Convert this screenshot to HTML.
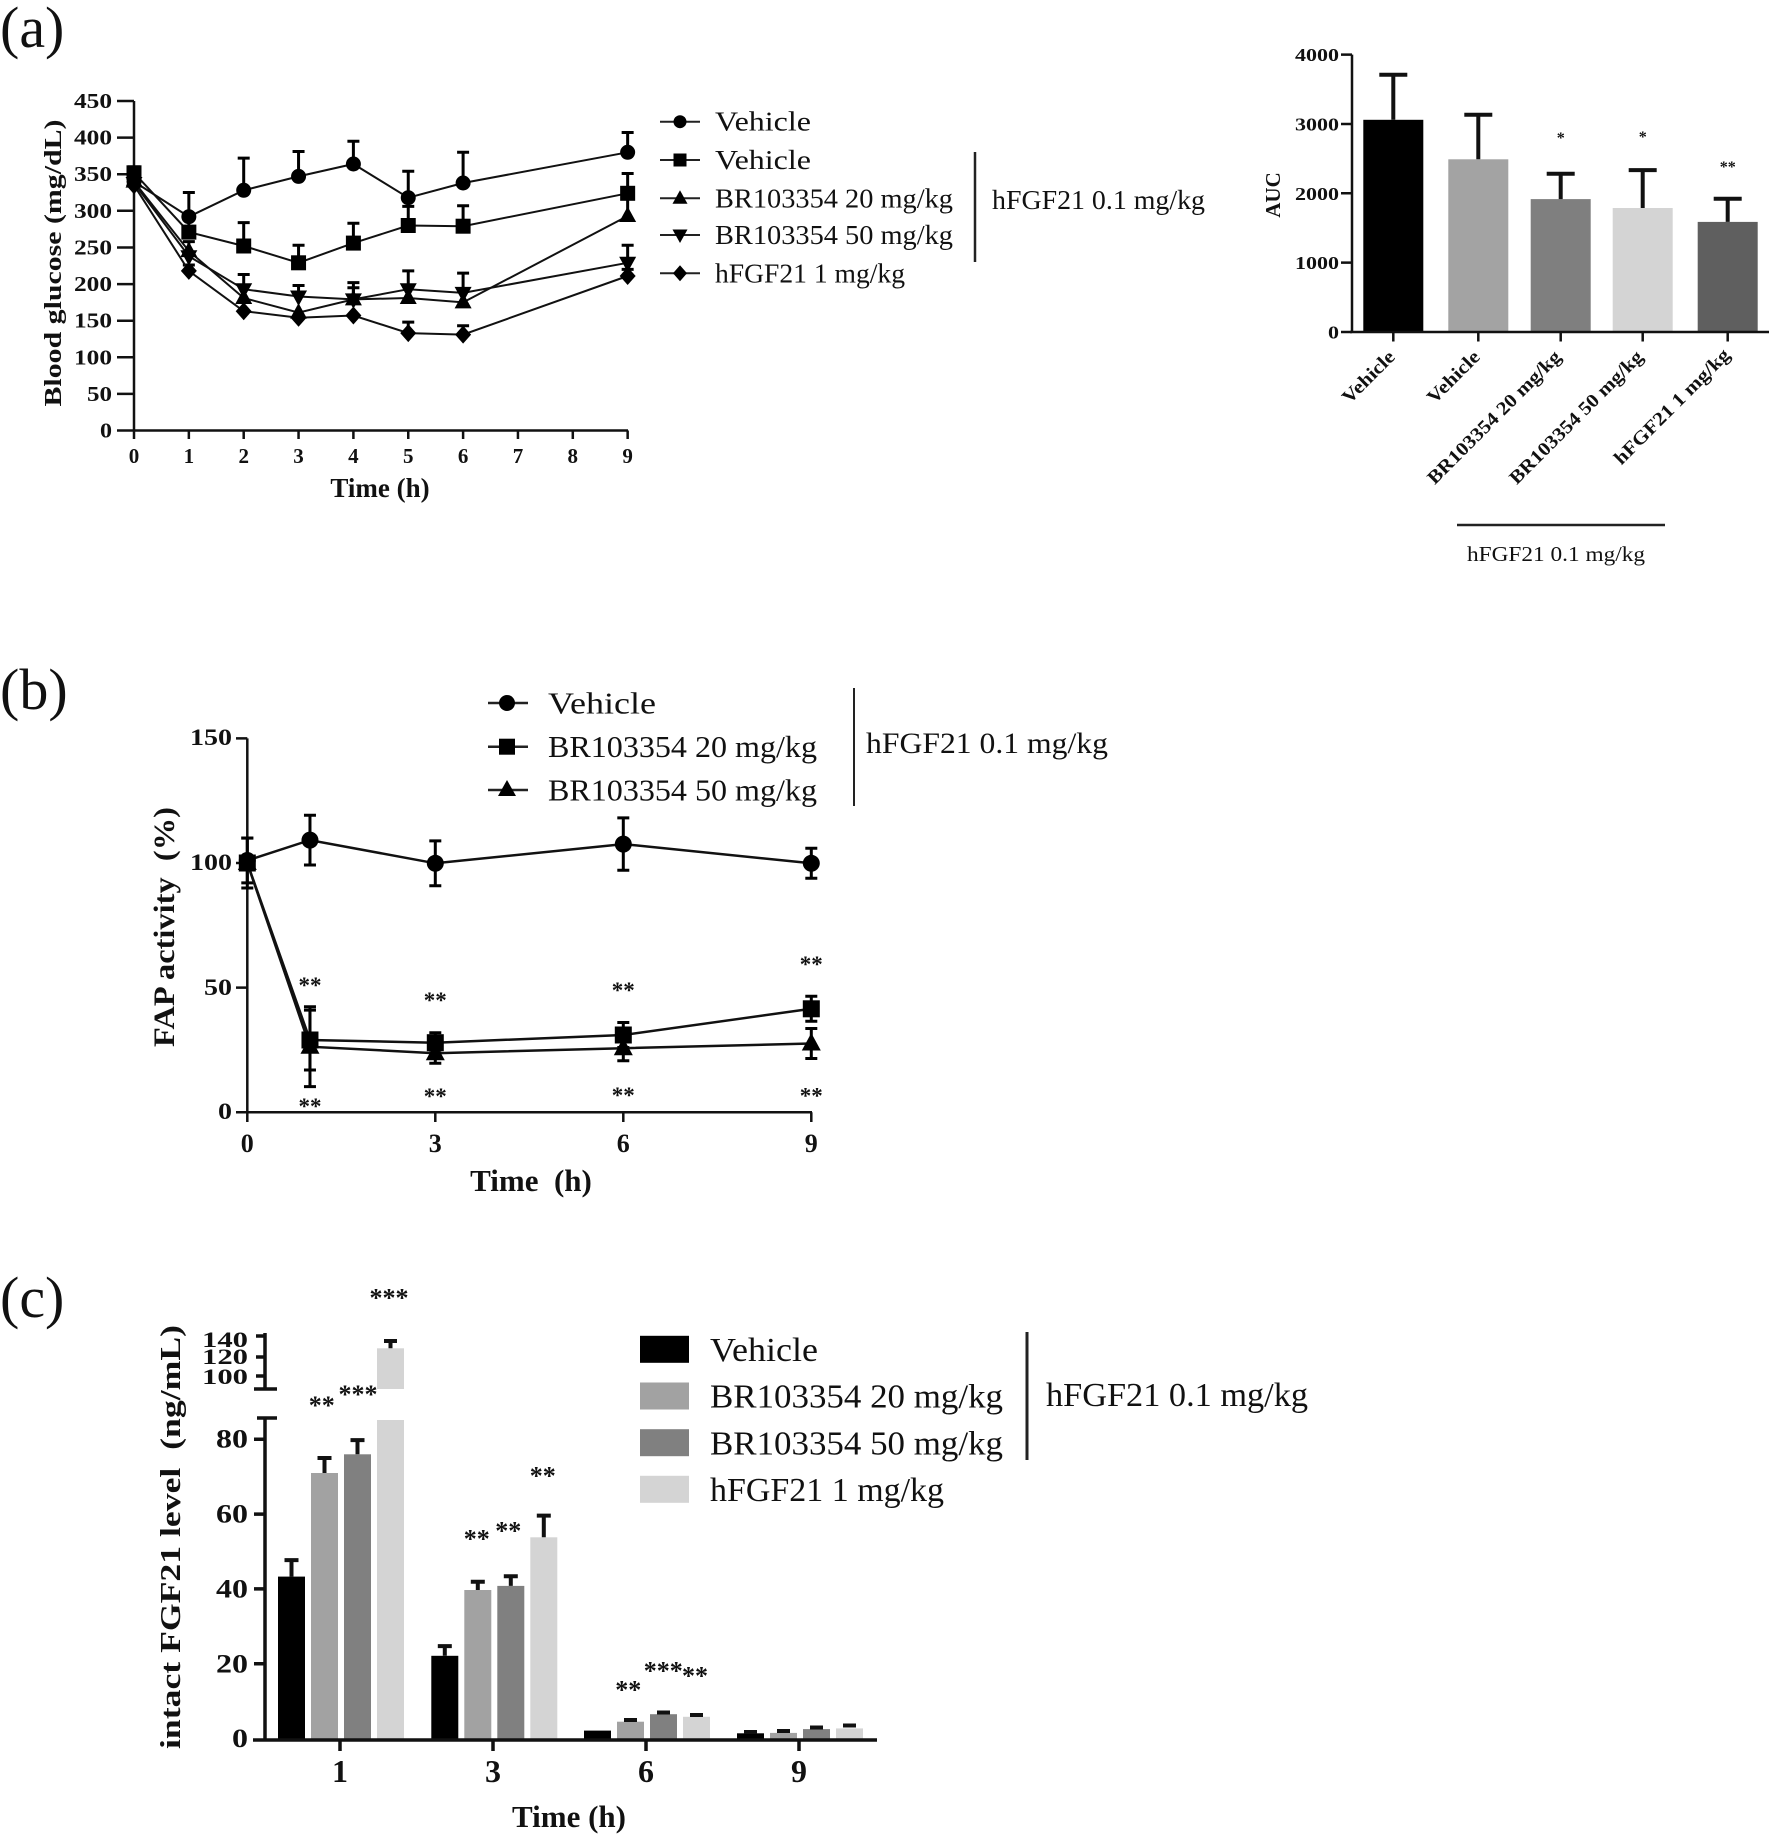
<!DOCTYPE html>
<html>
<head>
<meta charset="utf-8">
<style>
  html, body { margin: 0; padding: 0; background: #ffffff; }
  svg { display: block; }
  text { font-family: "Liberation Serif", "Times New Roman", serif; fill: #111; }
  .b { font-weight: bold; }
</style>
</head>
<body>
<svg width="1774" height="1840" viewBox="0 0 1774 1840" xmlns="http://www.w3.org/2000/svg" font-family="Liberation Serif, serif">
  <defs>
    <circle id="ca" cx="0" cy="0" r="7.5" fill="#000"/>
    <rect id="sa" x="-7.5" y="-7.5" width="15" height="15" fill="#000"/>
    <polygon id="ta" points="0,-9.5 -8.5,6 8.5,6" fill="#000"/>
    <polygon id="da" points="0,9.5 -8.5,-6 8.5,-6" fill="#000"/>
    <polygon id="ma" points="0,-9 8,0 0,9 -8,0" fill="#000"/>
    <circle id="cb" cx="0" cy="0" r="8.5" fill="#000"/>
    <rect id="sb" x="-8.5" y="-8.5" width="17" height="17" fill="#000"/>
    <polygon id="tb" points="0,-10.5 -9.5,7 9.5,7" fill="#000"/>
  </defs>

  <!-- ===================== PANEL (a) ===================== -->
  <text x="0" y="47" font-size="58">(a)</text>

  <g stroke="#111" stroke-width="2.5" fill="none">
    <path d="M134 101V431"/>
    <path d="M117 430.5H628"/>
    <path d="M117 393.9H134M117 357.3H134M117 320.7H134M117 284.1H134M117 247.5H134M117 210.8H134M117 174.2H134M117 137.6H134M117 101H134"/>
    <path d="M134 430.5V439M188.85 430.5V439M243.7 430.5V439M298.55 430.5V439M353.4 430.5V439M408.25 430.5V439M463.1 430.5V439M517.95 430.5V439M572.8 430.5V439M627.65 430.5V439"/>
  </g>
  <g class="b" font-size="21" text-anchor="end">
    <text x="112" y="437.5" textLength="12" lengthAdjust="spacingAndGlyphs">0</text>
    <text x="112" y="400.9" textLength="25" lengthAdjust="spacingAndGlyphs">50</text>
    <text x="112" y="364.3" textLength="38" lengthAdjust="spacingAndGlyphs">100</text>
    <text x="112" y="327.7" textLength="38" lengthAdjust="spacingAndGlyphs">150</text>
    <text x="112" y="291.1" textLength="38" lengthAdjust="spacingAndGlyphs">200</text>
    <text x="112" y="254.5" textLength="38" lengthAdjust="spacingAndGlyphs">250</text>
    <text x="112" y="217.8" textLength="38" lengthAdjust="spacingAndGlyphs">300</text>
    <text x="112" y="181.2" textLength="38" lengthAdjust="spacingAndGlyphs">350</text>
    <text x="112" y="144.6" textLength="38" lengthAdjust="spacingAndGlyphs">400</text>
    <text x="112" y="108" textLength="38" lengthAdjust="spacingAndGlyphs">450</text>
  </g>
  <g class="b" font-size="21" text-anchor="middle">
    <text x="134" y="463">0</text>
    <text x="188.85" y="463">1</text>
    <text x="243.7" y="463">2</text>
    <text x="298.55" y="463">3</text>
    <text x="353.4" y="463">4</text>
    <text x="408.25" y="463">5</text>
    <text x="463.1" y="463">6</text>
    <text x="517.95" y="463">7</text>
    <text x="572.8" y="463">8</text>
    <text x="627.65" y="463">9</text>
  </g>
  <text class="b" x="380" y="497" font-size="27" text-anchor="middle">Time (h)</text>
  <text class="b" font-size="24" text-anchor="middle" transform="translate(61,263) rotate(-90)" textLength="287" lengthAdjust="spacingAndGlyphs">Blood glucose  (mg/dL)</text>

  <g stroke="#000" stroke-width="3" fill="none">
    <path d="M134 181.6V174.2M128 174.2H140M188.85 216.7V192.5M182.85 192.5H194.85M243.7 190.3V158.1M237.7 158.1H249.7M298.55 176.4V151.5M292.55 151.5H304.55M353.4 164V141.3M347.4 141.3H359.4M408.25 197.7V171.3M402.25 171.3H414.25M463.1 183V152.3M457.1 152.3H469.1M627.65 152.3V132.5M621.65 132.5H633.65"/>
    <path d="M134 172.8V166.9M128 166.9H140M188.85 232.1V213.8M182.85 213.8H194.85M243.7 246V222.6M237.7 222.6H249.7M298.55 262.8V245.3M292.55 245.3H304.55M353.4 243.1V223.3M347.4 223.3H359.4M408.25 225.5V206.4M402.25 206.4H414.25M463.1 226.2V205.7M457.1 205.7H469.1M627.65 193.3V173.5M621.65 173.5H633.65"/>
    <path d="M188.85 251.1V241.6M182.85 241.6H194.85M243.7 298V285.5M237.7 285.5H249.7M353.4 299.4V287.7M347.4 287.7H359.4M408.25 298V286.3M402.25 286.3H414.25M463.1 302.4V291.4M457.1 291.4H469.1M627.65 216V197.7M621.65 197.7H633.65"/>
    <path d="M243.7 289.2V274.5M237.7 274.5H249.7M298.55 296.5V285.5M292.55 285.5H304.55M353.4 299.4V282.6M347.4 282.6H359.4M408.25 289.2V270.9M402.25 270.9H414.25M463.1 292.9V273.1M457.1 273.1H469.1M627.65 262.8V245.3M621.65 245.3H633.65"/>
    <path d="M188.85 270.9V265M182.85 265H194.85M408.25 333.1V322.1M402.25 322.1H414.25M463.1 334.6V325.8M457.1 325.8H469.1M627.65 276V269.4M621.65 269.4H633.65"/>
  </g>
  <g stroke="#111" stroke-width="2" fill="none">
    <polyline points="134,181.6 188.85,216.7 243.7,190.3 298.55,176.4 353.4,164 408.25,197.7 463.1,183 627.65,152.3"/>
    <polyline points="134,172.8 188.85,232.1 243.7,246 298.55,262.8 353.4,243.1 408.25,225.5 463.1,226.2 627.65,193.3"/>
    <polyline points="134,181.6 188.85,251.1 243.7,298 298.55,312.6 353.4,299.4 408.25,298 463.1,302.4 627.65,216"/>
    <polyline points="134,183 188.85,256.2 243.7,289.2 298.55,296.5 353.4,299.4 408.25,289.2 463.1,292.9 627.65,262.8"/>
    <polyline points="134,185.2 188.85,270.9 243.7,311.2 298.55,317.7 353.4,315.5 408.25,333.1 463.1,334.6 627.65,276"/>
  </g>
  <g>
    <use href="#ca" x="134" y="181.6"/><use href="#ca" x="188.85" y="216.7"/><use href="#ca" x="243.7" y="190.3"/><use href="#ca" x="298.55" y="176.4"/><use href="#ca" x="353.4" y="164"/><use href="#ca" x="408.25" y="197.7"/><use href="#ca" x="463.1" y="183"/><use href="#ca" x="627.65" y="152.3"/>
    <use href="#sa" x="134" y="172.8"/><use href="#sa" x="188.85" y="232.1"/><use href="#sa" x="243.7" y="246"/><use href="#sa" x="298.55" y="262.8"/><use href="#sa" x="353.4" y="243.1"/><use href="#sa" x="408.25" y="225.5"/><use href="#sa" x="463.1" y="226.2"/><use href="#sa" x="627.65" y="193.3"/>
    <use href="#ta" x="134" y="181.6"/><use href="#ta" x="188.85" y="251.1"/><use href="#ta" x="243.7" y="298"/><use href="#ta" x="298.55" y="312.6"/><use href="#ta" x="353.4" y="299.4"/><use href="#ta" x="408.25" y="298"/><use href="#ta" x="463.1" y="302.4"/><use href="#ta" x="627.65" y="216"/>
    <use href="#da" x="134" y="183"/><use href="#da" x="188.85" y="256.2"/><use href="#da" x="243.7" y="289.2"/><use href="#da" x="298.55" y="296.5"/><use href="#da" x="353.4" y="299.4"/><use href="#da" x="408.25" y="289.2"/><use href="#da" x="463.1" y="292.9"/><use href="#da" x="627.65" y="262.8"/>
    <use href="#ma" x="134" y="185.2"/><use href="#ma" x="188.85" y="270.9"/><use href="#ma" x="243.7" y="311.2"/><use href="#ma" x="298.55" y="317.7"/><use href="#ma" x="353.4" y="315.5"/><use href="#ma" x="408.25" y="333.1"/><use href="#ma" x="463.1" y="334.6"/><use href="#ma" x="627.65" y="276"/>
  </g>
  <g stroke="#222" stroke-width="2">
    <path d="M660 121.7H700M660 160H700M660 198.3H700M660 235H700M660 273.3H700"/>
  </g>
  <circle cx="680" cy="121.7" r="6.5" fill="#000"/>
  <rect x="673.5" y="153.5" width="13" height="13" fill="#000"/>
  <polygon points="680,190.3 672.5,203.8 687.5,203.8" fill="#000"/>
  <polygon points="680,243 672.5,229.5 687.5,229.5" fill="#000"/>
  <polygon points="680,265.3 687,273.3 680,281.3 673,273.3" fill="#000"/>
  <g font-size="27" fill="#222">
    <text x="715" y="130.7" textLength="96" lengthAdjust="spacingAndGlyphs">Vehicle</text>
    <text x="715" y="169" textLength="96" lengthAdjust="spacingAndGlyphs">Vehicle</text>
    <text x="715" y="207.3" textLength="238" lengthAdjust="spacingAndGlyphs">BR103354 20 mg/kg</text>
    <text x="715" y="244" textLength="238" lengthAdjust="spacingAndGlyphs">BR103354 50 mg/kg</text>
    <text x="715" y="282.3" textLength="190" lengthAdjust="spacingAndGlyphs">hFGF21 1 mg/kg</text>
  </g>
  <path d="M975 152V262" stroke="#222" stroke-width="2.5"/>
  <text x="992" y="209" font-size="27" textLength="213" lengthAdjust="spacingAndGlyphs">hFGF21 0.1 mg/kg</text>

  <!-- ===================== AUC chart ===================== -->
  <rect x="1363.3" y="119.8" width="60" height="212.2" fill="#000"/>
  <rect x="1448.3" y="159.3" width="60" height="172.7" fill="#a3a3a3"/>
  <rect x="1530.7" y="199.1" width="60" height="132.9" fill="#7f7f7f"/>
  <rect x="1612.7" y="208" width="60" height="124" fill="#d4d4d4"/>
  <rect x="1697.7" y="221.9" width="60" height="110.1" fill="#5f5f5f"/>
  <g stroke="#111" stroke-width="4" fill="none">
    <path d="M1393.3 119.8V74.8M1379.3 74.8H1407.3M1478.3 159.3V114.7M1464.3 114.7H1492.3M1560.7 199.1V173.7M1546.7 173.7H1574.7M1642.7 208V170.1M1628.7 170.1H1656.7M1727.7 221.9V198.7M1713.7 198.7H1741.7"/>
  </g>
  <g stroke="#111" stroke-width="2.5" fill="none">
    <path d="M1352 54.6V333"/>
    <path d="M1350 332H1769"/>
    <path d="M1341 332H1352M1341 262.65H1352M1341 193.3H1352M1341 123.95H1352M1341 54.6H1352"/>
    <path d="M1393.3 332V341.5M1478.3 332V341.5M1560.7 332V341.5M1642.7 332V341.5M1727.7 332V341.5"/>
  </g>
  <g class="b" font-size="18" text-anchor="end">
    <text x="1339" y="338.5" textLength="11" lengthAdjust="spacingAndGlyphs">0</text>
    <text x="1339" y="269" textLength="44" lengthAdjust="spacingAndGlyphs">1000</text>
    <text x="1339" y="199.8" textLength="44" lengthAdjust="spacingAndGlyphs">2000</text>
    <text x="1339" y="130.5" textLength="44" lengthAdjust="spacingAndGlyphs">3000</text>
    <text x="1339" y="61" textLength="44" lengthAdjust="spacingAndGlyphs">4000</text>
  </g>
  <text class="b" font-size="21" text-anchor="middle" transform="translate(1280,195) rotate(-90)">AUC</text>
  <g class="b" font-size="16" text-anchor="middle">
    <text x="1560.7" y="143">*</text>
    <text x="1642.7" y="142">*</text>
    <text x="1727.7" y="172">**</text>
  </g>
  <g class="b" font-size="19" text-anchor="end">
    <text transform="translate(1396,358) rotate(-45)" textLength="66" lengthAdjust="spacingAndGlyphs">Vehicle</text>
    <text transform="translate(1481,358) rotate(-45)" textLength="66" lengthAdjust="spacingAndGlyphs">Vehicle</text>
    <text transform="translate(1562,358) rotate(-45)" textLength="180" lengthAdjust="spacingAndGlyphs">BR103354 20 mg/kg</text>
    <text transform="translate(1644,358) rotate(-45)" textLength="180" lengthAdjust="spacingAndGlyphs">BR103354 50 mg/kg</text>
    <text transform="translate(1731,356) rotate(-45)" textLength="155" lengthAdjust="spacingAndGlyphs">hFGF21 1 mg/kg</text>
  </g>
  <path d="M1457 525H1665" stroke="#222" stroke-width="2.5"/>
  <text x="1556" y="561" font-size="21" text-anchor="middle" textLength="178" lengthAdjust="spacingAndGlyphs">hFGF21 0.1 mg/kg</text>

  <!-- ===================== PANEL (b) ===================== -->
  <text x="0" y="709" font-size="58">(b)</text>
  <g stroke="#111" stroke-width="2.5" fill="none">
    <path d="M247.3 738.35V1113"/>
    <path d="M236 1112.3H812"/>
    <path d="M236 738.35H247.3M236 863H247.3M236 987.65H247.3"/>
    <path d="M247.3 1112.3V1122M435.3 1112.3V1122M623.3 1112.3V1122M811.3 1112.3V1122"/>
  </g>
  <g class="b" font-size="23" text-anchor="end">
    <text x="232" y="745" textLength="42" lengthAdjust="spacingAndGlyphs">150</text>
    <text x="232" y="870" textLength="42" lengthAdjust="spacingAndGlyphs">100</text>
    <text x="232" y="995" textLength="28" lengthAdjust="spacingAndGlyphs">50</text>
    <text x="232" y="1119" textLength="14" lengthAdjust="spacingAndGlyphs">0</text>
  </g>
  <g class="b" font-size="26" text-anchor="middle">
    <text x="247.3" y="1152">0</text>
    <text x="435.3" y="1152">3</text>
    <text x="623.3" y="1152">6</text>
    <text x="811.3" y="1152">9</text>
  </g>
  <text class="b" x="531" y="1191" font-size="31" text-anchor="middle" xml:space="preserve">Time  (h)</text>
  <text class="b" font-size="30" text-anchor="middle" transform="translate(174,927) rotate(-90)" textLength="240" lengthAdjust="spacingAndGlyphs" xml:space="preserve">FAP activity  (%)</text>

  <g stroke="#000" stroke-width="3" fill="none">
    <path d="M247.3 838.1V882.9M241.3 838.1H253.3M241.3 882.9H253.3M309.97 815.2V865M303.97 815.2H315.97M303.97 865H315.97M435.3 840.9V885.7M429.3 840.9H441.3M429.3 885.7H441.3M623.3 817.9V870.3M617.3 817.9H629.3M617.3 870.3H629.3M811.3 848.3V878.3M805.3 848.3H817.3M805.3 878.3H817.3"/>
    <path d="M247.3 838V888M241.3 838H253.3M241.3 888H253.3M309.97 1010.1V1070M303.97 1010.1H315.97M303.97 1070H315.97M435.3 1032.7V1052.7M429.3 1032.7H441.3M429.3 1052.7H441.3M623.3 1022.5V1047.5M617.3 1022.5H629.3M617.3 1047.5H629.3M811.3 996.3V1021.3M805.3 996.3H817.3M805.3 1021.3H817.3"/>
    <path d="M309.97 1006.8V1086.6M303.97 1086.6H315.97M303.97 1006.8H315.97M435.3 1043.2V1063.2M429.3 1063.2H441.3M623.3 1035.7V1060.7M617.3 1060.7H629.3M811.3 1028.5V1058.5M805.3 1058.5H817.3M805.3 1028.5H817.3"/>
  </g>
  <g stroke="#111" stroke-width="2.5" fill="none">
    <polyline points="247.3,860.5 309.97,840.1 435.3,863.3 623.3,844.1 811.3,863.3"/>
    <polyline points="247.3,863 309.97,1040 435.3,1042.7 623.3,1035 811.3,1008.8"/>
    <polyline points="247.3,863 309.97,1046.7 435.3,1053.2 623.3,1048.2 811.3,1043.5"/>
  </g>
  <g>
    <use href="#cb" x="247.3" y="860.5"/><use href="#cb" x="309.97" y="840.1"/><use href="#cb" x="435.3" y="863.3"/><use href="#cb" x="623.3" y="844.1"/><use href="#cb" x="811.3" y="863.3"/>
    <use href="#sb" x="247.3" y="863"/><use href="#sb" x="309.97" y="1040"/><use href="#sb" x="435.3" y="1042.7"/><use href="#sb" x="623.3" y="1035"/><use href="#sb" x="811.3" y="1008.8"/>
    <use href="#tb" x="247.3" y="863"/><use href="#tb" x="309.97" y="1046.7"/><use href="#tb" x="435.3" y="1053.2"/><use href="#tb" x="623.3" y="1048.2"/><use href="#tb" x="811.3" y="1043.5"/>
  </g>
  <g class="b" font-size="23" text-anchor="middle" fill="#222">
    <text x="309.97" y="993">**</text>
    <text x="435.3" y="1008">**</text>
    <text x="623.3" y="998">**</text>
    <text x="811.3" y="972">**</text>
    <text x="309.97" y="1114">**</text>
    <text x="435.3" y="1104">**</text>
    <text x="623.3" y="1103">**</text>
    <text x="811.3" y="1103.5">**</text>
  </g>
  <g stroke="#222" stroke-width="2.5">
    <path d="M488 703H528M488 746.7H528M488 790H528"/>
  </g>
  <circle cx="507" cy="703" r="8" fill="#000"/>
  <rect x="499" y="738.7" width="16" height="16" fill="#000"/>
  <polygon points="507,780 498,796 516,796" fill="#000"/>
  <g font-size="31" fill="#222">
    <text x="548" y="713.5" textLength="108" lengthAdjust="spacingAndGlyphs">Vehicle</text>
    <text x="548" y="757.2" textLength="269" lengthAdjust="spacingAndGlyphs">BR103354 20 mg/kg</text>
    <text x="548" y="800.5" textLength="269" lengthAdjust="spacingAndGlyphs">BR103354 50 mg/kg</text>
  </g>
  <path d="M854 688V806" stroke="#222" stroke-width="2"/>
  <text x="866" y="753" font-size="30" fill="#222" textLength="242" lengthAdjust="spacingAndGlyphs">hFGF21 0.1 mg/kg</text>

  <!-- ===================== PANEL (c) ===================== -->
  <text x="0" y="1317" font-size="58">(c)</text>

  <rect x="278" y="1576.6" width="27" height="161.9" fill="#000"/>
  <rect x="311" y="1473" width="27" height="265.5" fill="#a2a2a2"/>
  <rect x="344" y="1454.3" width="27" height="284.2" fill="#808080"/>
  <rect x="377" y="1420" width="27" height="318.5" fill="#d4d4d4"/>
  <rect x="377" y="1348.3" width="27" height="40.7" fill="#d4d4d4"/>

  <rect x="431.3" y="1655.8" width="27" height="82.7" fill="#000"/>
  <rect x="464.3" y="1590" width="27" height="148.5" fill="#a2a2a2"/>
  <rect x="497.3" y="1585.9" width="27" height="152.6" fill="#808080"/>
  <rect x="530.3" y="1537.3" width="27" height="201.2" fill="#d4d4d4"/>

  <rect x="584" y="1730.6" width="27" height="7.9" fill="#000"/>
  <rect x="617" y="1721.7" width="27" height="16.8" fill="#a2a2a2"/>
  <rect x="650" y="1714.2" width="27" height="24.3" fill="#808080"/>
  <rect x="683" y="1716.8" width="27" height="21.7" fill="#d4d4d4"/>

  <rect x="737" y="1733.3" width="27" height="5.2" fill="#000"/>
  <rect x="770" y="1732.9" width="27" height="5.6" fill="#a2a2a2"/>
  <rect x="803" y="1729.1" width="27" height="9.4" fill="#808080"/>
  <rect x="836" y="1728.4" width="27" height="10.1" fill="#d4d4d4"/>

  <g stroke="#111" stroke-width="4" fill="none">
    <path d="M291.5 1576.6V1560.1M284.5 1560.1H298.5M324.5 1473V1458M317.5 1458H331.5M357.5 1454.3V1440.1M350.5 1440.1H364.5M390.5 1348.3V1341M384 1341H397"/>
    <path d="M444.8 1655.8V1646.1M437.8 1646.1H451.8M477.8 1590V1581.8M470.8 1581.8H484.8M510.8 1585.9V1576.2M503.8 1576.2H517.8M543.8 1537.3V1515.6M536.8 1515.6H550.8"/>
    <path d="M624 1720H637M657 1712.5H670M690 1715H703M744 1732H757M777 1731H790M810 1727.5H823M843 1725.5H856"/>
  </g>

  <g stroke="#111" stroke-width="3.5" fill="none">
    <path d="M265 1418V1741"/>
    <path d="M257 1418H277"/>
    <path d="M253 1740H877"/>
    <path d="M254 1663.7H265M254 1588.9H265M254 1514.1H265M254 1439.3H265"/>
    <path d="M340 1740V1751M493 1740V1751M646 1740V1751M799 1740V1751"/>
    <path d="M265 1333V1389"/>
    <path d="M254 1389H277"/>
    <path d="M256 1336H265M256 1357H265M256 1376H265"/>
  </g>
  <g class="b" font-size="26" text-anchor="end">
    <text x="248" y="1747" textLength="16" lengthAdjust="spacingAndGlyphs">0</text>
    <text x="248" y="1672.5" textLength="32" lengthAdjust="spacingAndGlyphs">20</text>
    <text x="248" y="1597.5" textLength="32" lengthAdjust="spacingAndGlyphs">40</text>
    <text x="248" y="1522.5" textLength="32" lengthAdjust="spacingAndGlyphs">60</text>
    <text x="248" y="1447.5" textLength="32" lengthAdjust="spacingAndGlyphs">80</text>
  </g>
  <g class="b" font-size="22" text-anchor="end">
    <text x="248" y="1347" textLength="46" lengthAdjust="spacingAndGlyphs">140</text>
    <text x="248" y="1364" textLength="46" lengthAdjust="spacingAndGlyphs">120</text>
    <text x="248" y="1384" textLength="46" lengthAdjust="spacingAndGlyphs">100</text>
  </g>
  <g class="b" font-size="32" text-anchor="middle">
    <text x="340" y="1782">1</text>
    <text x="493" y="1782">3</text>
    <text x="646" y="1782">6</text>
    <text x="799" y="1782">9</text>
  </g>
  <text class="b" x="569" y="1827" font-size="31" text-anchor="middle">Time (h)</text>
  <text class="b" font-size="28" text-anchor="middle" transform="translate(180,1537) rotate(-90)" textLength="424" lengthAdjust="spacingAndGlyphs" xml:space="preserve">intact FGF21 level  (ng/mL)</text>

  <g font-size="26" text-anchor="middle" fill="#222" class="b">
    <text x="321.7" y="1414">**</text>
    <text x="358" y="1403">***</text>
    <text x="389" y="1306.5">***</text>
    <text x="476.7" y="1547.6">**</text>
    <text x="508.3" y="1539.3">**</text>
    <text x="542.7" y="1484.3">**</text>
    <text x="628.3" y="1698.6">**</text>
    <text x="663.3" y="1679.3">***</text>
    <text x="695" y="1684.3">**</text>
  </g>

  <rect x="640" y="1335.8" width="49" height="27" fill="#000"/>
  <rect x="640" y="1382.5" width="49" height="27" fill="#a2a2a2"/>
  <rect x="640" y="1429.2" width="49" height="27" fill="#808080"/>
  <rect x="640" y="1475.8" width="49" height="27" fill="#d4d4d4"/>
  <g font-size="34" fill="#222">
    <text x="710" y="1361" textLength="108" lengthAdjust="spacingAndGlyphs">Vehicle</text>
    <text x="710" y="1407.7" textLength="293" lengthAdjust="spacingAndGlyphs">BR103354 20 mg/kg</text>
    <text x="710" y="1454.4" textLength="293" lengthAdjust="spacingAndGlyphs">BR103354 50 mg/kg</text>
    <text x="710" y="1501" textLength="234" lengthAdjust="spacingAndGlyphs">hFGF21 1 mg/kg</text>
  </g>
  <path d="M1027 1332V1460" stroke="#222" stroke-width="3"/>
  <text x="1046" y="1406" font-size="34" fill="#222" textLength="262" lengthAdjust="spacingAndGlyphs">hFGF21 0.1 mg/kg</text>
</svg>
</body>
</html>
